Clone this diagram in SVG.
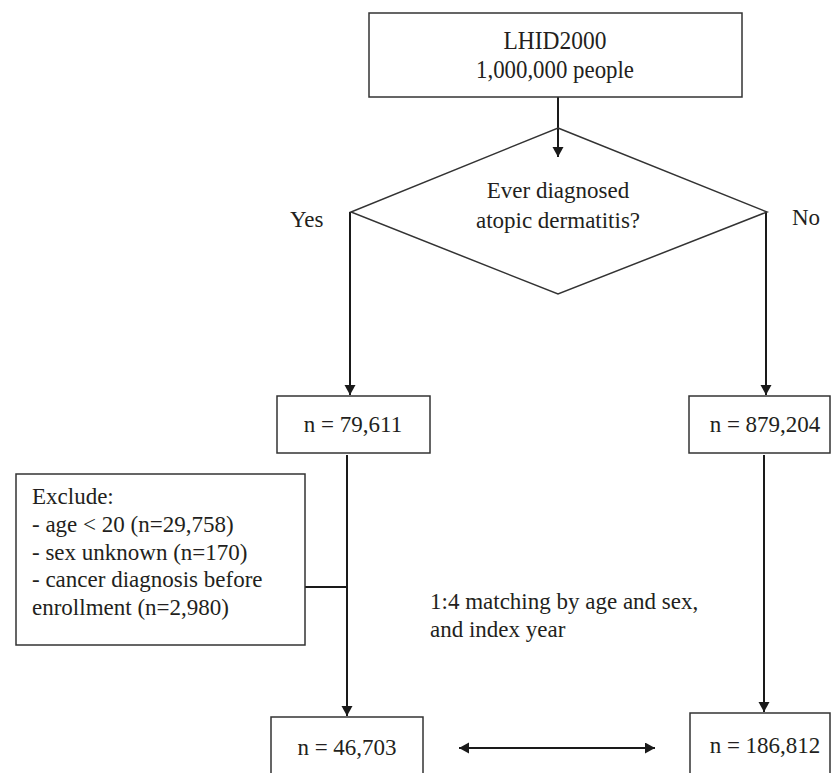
<svg xmlns="http://www.w3.org/2000/svg" width="832" height="773" viewBox="0 0 832 773">
<style>
.box{fill:#fff;stroke:#333;stroke-width:1.5}
.t{font-size:23px;fill:#231f20}
.c{text-anchor:middle}
.big{font-size:25px}
.ln{stroke:#1a1a1a;stroke-width:2;fill:none}
</style>
<defs>
<marker id="ah" markerUnits="userSpaceOnUse" markerWidth="12" markerHeight="12" refX="10" refY="5.5" orient="auto-start-reverse">
<path d="M0,0 L10,5.5 L0,11 z" fill="#1a1a1a"/>
</marker>
</defs>
<rect width="832" height="773" fill="#fff"/>
<g id="connectors">
<line class="ln" x1="558" y1="97" x2="558" y2="157" marker-end="url(#ah)"/>
<line class="ln" x1="350" y1="212" x2="350" y2="395" marker-end="url(#ah)"/>
<line class="ln" x1="766" y1="212" x2="766" y2="395" marker-end="url(#ah)"/>
<line class="ln" x1="347" y1="455" x2="347" y2="716" marker-end="url(#ah)"/>
<line class="ln" x1="305" y1="587" x2="347" y2="587"/>
<line class="ln" x1="764" y1="455" x2="764" y2="712" marker-end="url(#ah)"/>
<line class="ln" x1="459" y1="748" x2="655" y2="748" marker-start="url(#ah)" marker-end="url(#ah)"/>
</g>
<g font-family="Liberation Serif, Times New Roman, serif">
<g id="start">
<rect class="box" x="369" y="13" width="373" height="84"/>
<text class="t c big" x="555" y="49" textLength="103" lengthAdjust="spacingAndGlyphs">LHID2000</text>
<text class="t c big" x="555" y="78" textLength="158" lengthAdjust="spacingAndGlyphs">1,000,000 people</text>
</g>
<g id="decision">
<polygon points="558,128 767,212 558,294 351,212" fill="none" stroke="#333" stroke-width="1.5"/>
<text class="t c" x="558" y="198">Ever diagnosed</text>
<text class="t c" x="558" y="228">atopic dermatitis?</text>
</g>
<g id="label-yes"><text class="t" x="290" y="227">Yes</text></g>
<g id="label-no"><text class="t" x="792" y="225">No</text></g>
<g id="ad">
<rect class="box" x="277" y="396" width="153" height="57"/>
<text class="t c" x="353" y="432">n = 79,611</text>
</g>
<g id="nonad">
<rect class="box" x="689" y="396" width="141" height="57"/>
<text class="t c" x="765" y="432">n = 879,204</text>
</g>
<g id="exclude">
<rect class="box" x="16" y="474" width="289" height="171"/>
<text class="t" x="32" y="504">Exclude:</text>
<text class="t" x="32" y="532">- age &lt; 20 (n=29,758)</text>
<text class="t" x="32" y="560">- sex unknown (n=170)</text>
<text class="t" x="32" y="587">- cancer diagnosis before</text>
<text class="t" x="32" y="615">enrollment (n=2,980)</text>
</g>
<g id="matching">
<text class="t" x="430" y="609">1:4 matching by age and sex,</text>
<text class="t" x="430" y="637">and index year</text>
</g>
<g id="ad-final">
<rect class="box" x="271" y="717" width="152" height="70"/>
<text class="t c" x="347" y="755">n = 46,703</text>
</g>
<g id="control-final">
<rect class="box" x="690" y="713" width="140" height="70"/>
<text class="t c" x="765" y="753">n = 186,812</text>
</g>
</g>
</svg>
